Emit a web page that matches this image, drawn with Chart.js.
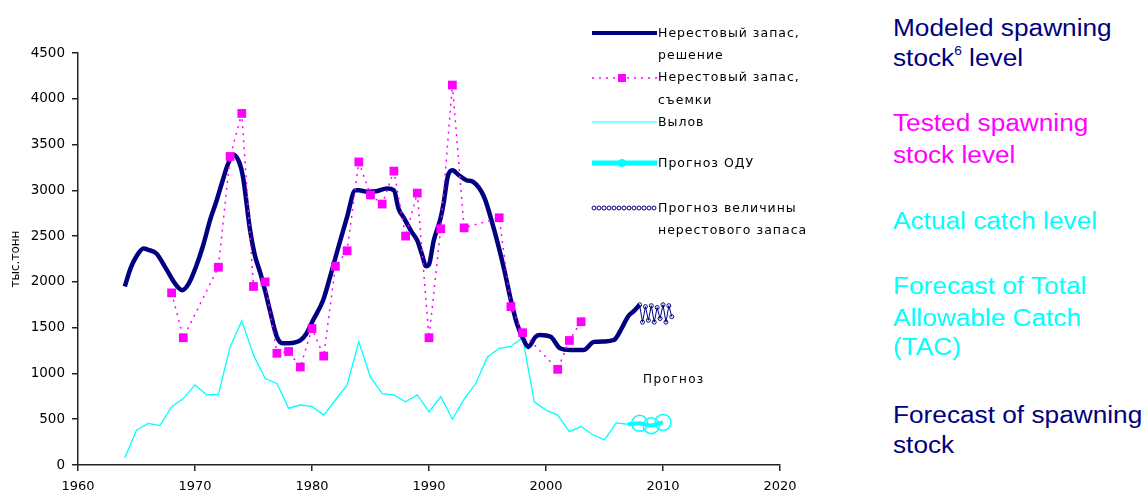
<!DOCTYPE html>
<html><head><meta charset="utf-8">
<script src="https://cdn.jsdelivr.net/npm/chart.js@4.4.1/dist/chart.umd.min.js"></script>
<style>
html,body{margin:0;padding:0;background:#fff;width:1148px;height:498px;overflow:hidden;}
#wrap{position:relative;width:1148px;height:498px;}
#c{position:absolute;left:0;top:0;}
.lg{position:absolute;left:658px;font-family:"DejaVu Sans";font-size:12.5px;letter-spacing:1px;color:#000;line-height:22px;white-space:nowrap;}
.rt{position:absolute;left:893px;font-family:"Liberation Sans";font-size:23px;line-height:23px;white-space:nowrap;transform:scaleX(1.14);transform-origin:0 0;}
.rt sup{font-size:12px;line-height:0;vertical-align:11px;}
.navy{color:#000080;} .mag{color:#FF00FF;} .cy{color:#00FFFF;}
</style></head>
<body>
<div id="wrap">
<canvas id="c" width="880" height="498"></canvas>

<svg style="position:absolute;left:585px;top:0;" width="75" height="250">
  <line x1="7" y1="33" x2="72" y2="33" stroke="#000080" stroke-width="4"/>
  <line x1="7" y1="78" x2="72" y2="78" stroke="#FF00FF" stroke-width="1.5" stroke-dasharray="2,5"/>
  <rect x="33" y="74" width="8" height="8" fill="#FF00FF"/>
  <line x1="7" y1="122" x2="72" y2="122" stroke="#00FFFF" stroke-width="1.2"/>
  <line x1="7" y1="163" x2="72" y2="163" stroke="#00FFFF" stroke-width="5"/>
  <circle cx="37" cy="163" r="4" fill="#00FFFF"/>
  <g fill="none" stroke="#000080" stroke-width="1">
    <circle cx="9" cy="208" r="2"/><circle cx="14" cy="208" r="2"/><circle cx="19" cy="208" r="2"/>
    <circle cx="24" cy="208" r="2"/><circle cx="29" cy="208" r="2"/><circle cx="34" cy="208" r="2"/>
    <circle cx="39" cy="208" r="2"/><circle cx="44" cy="208" r="2"/><circle cx="49" cy="208" r="2"/>
    <circle cx="54" cy="208" r="2"/><circle cx="59" cy="208" r="2"/><circle cx="64" cy="208" r="2"/>
    <circle cx="69" cy="208" r="2"/>
  </g>
</svg>
<div class="lg" style="top:22px;">Нерестовый запас,</div>
<div class="lg" style="top:44px;">решение</div>
<div class="lg" style="top:66px;">Нерестовый запас,</div>
<div class="lg" style="top:89px;">съемки</div>
<div class="lg" style="top:111px;">Вылов</div>
<div class="lg" style="top:152px;">Прогноз ОДУ</div>
<div class="lg" style="top:197px;">Прогноз величины</div>
<div class="lg" style="top:219px;">нерестового запаса</div>
<div class="lg" style="left:643px;top:368px;font-size:12px;letter-spacing:1.4px;">Прогноз</div>

<div class="rt navy" style="top:17px;">Modeled spawning</div>
<div class="rt navy" style="top:47px;">stock<sup>6</sup> level</div>
<div class="rt mag" style="top:112px;">Tested spawning</div>
<div class="rt mag" style="top:144px;">stock level</div>
<div class="rt cy" style="top:210px;">Actual catch level</div>
<div class="rt cy" style="top:275px;">Forecast of Total</div>
<div class="rt cy" style="top:307px;">Allowable Catch</div>
<div class="rt cy" style="top:336px;">(TAC)</div>
<div class="rt navy" style="top:404px;">Forecast of spawning</div>
<div class="rt navy" style="top:434px;">stock</div>
</div>

<script>
// Tick labels
const xTicks = [1960, 1970, 1980, 1990, 2000, 2010, 2020];
const yTicks = [0, 500, 1000, 1500, 2000, 2500, 3000, 3500, 4000, 4500];

// Нерестовый запас, решение (modeled spawning stock)
const modeledYears = [1964.0,1964.5,1965.0,1965.6,1966.0,1966.7,1967.5,1968.3,1968.9,1969.5,1970.1,1970.7,1971.3,1971.8,1972.3,1972.8,1973.3,1973.8,1974.1,1974.7,1975.1,1975.6,1976.0,1976.4,1977.0,1977.5,1978.0,1979.0,1979.5,1980.1,1980.95,1981.55,1982.3,1983.0,1983.7,1984.0,1984.7,1985.5,1986.4,1987.0,1987.4,1987.8,1988.5,1989.0,1989.4,1989.75,1990.0,1990.4,1991.0,1991.25,1991.6,1992.0,1992.5,1993.2,1993.8,1994.7,1995.5,1996.4,1997.0,1997.5,1998.1,1998.5,1999.1,1999.5,2000.4,2001.2,2002.1,2003.2,2004.1,2005.0,2005.8,2006.5,2007.0,2007.5,2008.0];
const modeledValues = [1950,2150,2280,2365,2350,2310,2150,1980,1910,1990,2170,2400,2680,2870,3080,3280,3390,3300,3150,2570,2300,2090,1900,1690,1400,1330,1330,1360,1430,1584,1800,2057,2400,2710,3000,3000,2985,2990,3020,3000,2800,2710,2550,2450,2300,2170,2190,2450,2700,2860,3150,3220,3170,3110,3090,2930,2600,2150,1800,1550,1365,1290,1400,1420,1400,1275,1256,1256,1345,1350,1365,1500,1620,1680,1750];

// Нерестовый запас, съемки (survey)
const surveyYears = [1968,1969,1970,1971,1972,1973,1974,1975,1976,1977,1978,1979,1980,1981,1982,1983,1984,1985,1986,1987,1988,1989,1990,1991,1992,1993,1994,1995,1996,1997,1998,1999,2000,2001,2002,2003];
const surveyValues = [1880,1390,null,null,2160,3370,3840,1950,2000,1220,1240,1070,1490,1190,2170,2340,3310,2950,2850,3210,2500,2970,1390,2580,4150,2590,null,null,2700,1730,1445,null,null,1045,1360,1565];

// Вылов (catch)
const catchYears = [1964,1965,1966,1967,1968,1969,1970,1971,1972,1973,1974,1975,1976,1977,1978,1979,1980,1981,1982,1983,1984,1985,1986,1987,1988,1989,1990,1991,1992,1993,1994,1995,1996,1997,1998,1999,2000,2001,2002,2003,2004,2005,2006,2007];
const catchValues = [80,380,455,430,635,725,875,765,770,1290,1575,1200,945,890,620,655,640,545,710,875,1345,960,780,765,690,765,580,745,500,720,890,1180,1275,1295,1390,690,600,545,365,420,330,275,460,445];

// Прогноз ОДУ (TAC forecast)
const tacYears = [2007, 2008, 2009, 2010];
const tacValues = [445, 455, 430, 465];

// Прогноз величины нерестового запаса (spawning stock forecast)
const forecastYears = [2008.0,2008.25,2008.5,2008.75,2009.0,2009.25,2009.5,2009.75,2010.0,2010.25,2010.5,2010.75];
const forecastValues = [1750,1560,1730,1580,1740,1560,1720,1600,1750,1560,1740,1620];

const pts = (xs, ys) => xs.map((x, i) => ({x: x, y: ys[i]}));

const NAVY = '#000080', MAG = '#FF00FF', CYAN = '#00FFFF';
const tickFont = {family: 'DejaVu Sans', size: 13};

new Chart(document.getElementById('c'), {
  type: 'line',
  data: {
    datasets: [
      {label: 'Нерестовый запас, съемки', data: pts(surveyYears, surveyValues), order: 0,
        borderColor: MAG, backgroundColor: MAG, borderWidth: 1.5, borderDash: [2, 5], spanGaps: true,
        pointStyle: 'rect', pointRadius: 6.2, pointBackgroundColor: MAG, pointBorderWidth: 0, tension: 0},
      {label: 'Нерестовый запас, решение', data: pts(modeledYears, modeledValues), order: 1,
        borderColor: NAVY, borderWidth: 4.5, pointRadius: 0, cubicInterpolationMode: 'monotone'},
      {label: 'Прогноз величины нерестового запаса', data: pts(forecastYears, forecastValues), order: 2,
        borderColor: NAVY, borderWidth: 1, pointRadius: 2, pointBorderColor: NAVY, pointBorderWidth: 1,
        pointBackgroundColor: 'rgba(255,255,255,0)', tension: 0},
      {label: 'Вылов', data: pts(catchYears, catchValues), order: 3,
        borderColor: CYAN, borderWidth: 1.3, pointRadius: 0, tension: 0},
      {label: 'Прогноз ОДУ', data: pts(tacYears, tacValues), order: 4,
        borderColor: CYAN, borderWidth: 4, pointRadius: [0, 8, 8, 8], pointBorderColor: CYAN, pointBorderWidth: 1.5,
        pointBackgroundColor: 'rgba(255,255,255,0)', tension: 0}
    ]
  },
  options: {
    responsive: false,
    animation: false,
    events: [],
    layout: {padding: {left: 0, right: 100, top: 53, bottom: 0}},
    plugins: {legend: {display: false}, tooltip: {enabled: false}},
    scales: {
      x: {
        type: 'linear', min: 1960, max: 2020,
        afterBuildTicks: s => { s.ticks = xTicks.map(v => ({value: v})); },
        ticks: {color: '#000', font: tickFont, padding: 8, maxRotation: 0, autoSkip: false, callback: v => String(v)},
        grid: {display: true, drawOnChartArea: false, drawTicks: true, tickLength: 6, color: '#222', lineWidth: 1.5},
        border: {display: true, color: '#222', width: 1.5},
        afterFit: s => { s.height = 33; }
      },
      y: {
        min: 0, max: 4500,
        afterBuildTicks: s => { s.ticks = yTicks.map(v => ({value: v})); },
        ticks: {color: '#000', font: {family: 'DejaVu Sans', size: 13.5}, padding: 7, autoSkip: false, callback: v => String(v)},
        grid: {display: true, drawOnChartArea: false, drawTicks: true, tickLength: 6, color: '#222', lineWidth: 1.5},
        border: {display: true, color: '#222', width: 1.5},
        title: {display: true, text: 'тыс.тонн', color: '#000', font: {family: 'DejaVu Sans', size: 12}, padding: {top: 9, bottom: 0}},
        afterFit: s => { s.width = 78; }
      }
    }
  }
});
</script>
</body></html>
